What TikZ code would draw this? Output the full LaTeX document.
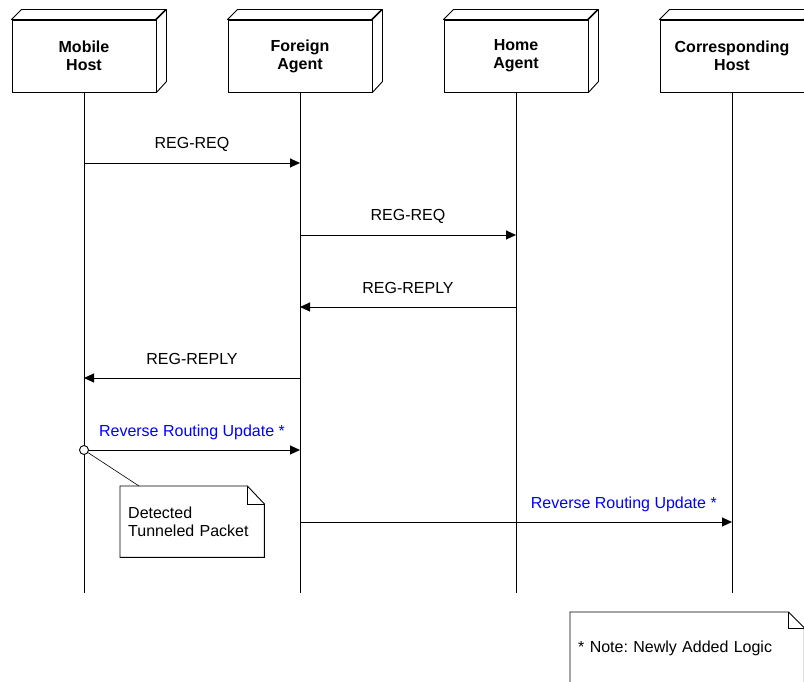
\documentclass[tikz,border=0pt]{standalone}
\usepackage{fontspec}
\setmainfont{Liberation Sans}
\usetikzlibrary{arrows.meta}
\definecolor{newlogic}{RGB}{0,0,255}
\begin{document}
\frenchspacing
\begin{tikzpicture}[x=1pt,y=-1pt,
  every node/.style={font=\fontsize{16}{18}\selectfont},
  headbox/.style={draw=black, line width=0.9pt, fill=white, minimum width=144pt,
    minimum height=72pt, align=center, inner sep=0pt, font=\fontsize{16}{18}\selectfont\bfseries},
  face/.style={draw=black, line width=0.9pt, fill=white, line join=round},
  life/.style={draw=black, line width=0.9pt},
  msg/.style={draw=black, line width=0.9pt, -{Triangle[length=10pt,width=9pt]}},
  lbl/.style={anchor=base, inner sep=0pt, yshift=14pt},
  newlbl/.style={lbl, text=newlogic},
  notebox/.style={anchor=north west, minimum height=71pt, text width=128pt,
    inner xsep=8pt, inner ysep=0pt, align=left},
  noteline/.style={draw=black, line width=0.9pt},
  hit/.style={circle, draw=black, line width=0.9pt, fill=white, inner sep=0pt, minimum size=9pt}
]
\useasboundingbox (0,0) rectangle (804,682);
\clip (0,0) rectangle (804,682);

% lifeline ends
\coordinate (mhE) at (84,593);
\coordinate (faE) at (300,593);
\coordinate (haE) at (516,593);
\coordinate (chE) at (732,593);

% lifelines
\draw[life] (84,91) -- (mhE);
\draw[life] (300,91) -- (faE);
\draw[life] (516,91) -- (haE);
\draw[life] (732,91) -- (chE);

% participant boxes with a 3-D depth
\foreach \nm/\x/\txt in {mh/84/{Mobile\\Host}, fa/300/{Foreign\\Agent},
                         ha/516/{Home\\Agent}, ch/732/{Corresponding\\Host}}{
  \node[headbox] (\nm) at (\x,56) {\txt};
  \draw[face] (\nm.north west) -- ++(10,-10) -- ++(144,0) -- ++(-10,10) -- cycle;
  \draw[face] (\nm.north east) -- ++(10,-10) -- ++(0,72) -- (\nm.south east) -- cycle;
}

% message anchor points on the lifelines
\coordinate (m1a) at (84,163);  \coordinate (m1b) at (300,163);
\coordinate (m2a) at (300,235); \coordinate (m2b) at (516,235);
\coordinate (m3a) at (516,307); \coordinate (m3b) at (300,307);
\coordinate (m4a) at (300,378); \coordinate (m4b) at (84,378);
\coordinate (m5a) at (84,450);  \coordinate (m5b) at (300,450);
\coordinate (m6a) at (300,522); \coordinate (m6b) at (732,522);

% messages
\draw[msg] (m1a) -- node[lbl] {REG-REQ} (m1b);
\draw[msg] (m2a) -- node[lbl] {REG-REQ} (m2b);
\draw[msg] (m3a) -- node[lbl] {REG-REPLY} (m3b);
\draw[msg] (m4a) -- node[lbl] {REG-REPLY} (m4b);
\draw[msg] (m5a) -- node[newlbl] {Reverse Routing Update *} (m5b);
\draw[msg] (m6a) -- (m6b);
\node[newlbl, anchor=base east] (l6) at (717,522) {Reverse Routing Update *};

% note: detected tunneled packet
\node[notebox] (det) at (120,486) {Detected\\Tunneled Packet};
\draw[noteline] (det.north west) -- ([xshift=-17pt]det.north east)
  -- ([yshift=-18pt]det.north east) -- (det.south east) -- (det.south west) -- cycle;
\draw[line width=0.9pt] ([xshift=-17pt]det.north east) |- ([yshift=-18pt]det.north east);
\node[hit] (tp) at (m5a) {};
\draw[line width=0.6pt] (tp) -- ([xshift=19pt]det.north west);

% note: newly added logic
\node[notebox, minimum height=72pt, text width=218pt] (nl) at (570,612) {* Note: Newly Added Logic};
\draw[noteline] (nl.north west) -- ([xshift=-16pt]nl.north east)
  -- ([yshift=-16pt]nl.north east) -- (nl.south east) -- (nl.south west) -- cycle;
\draw[line width=0.9pt] ([xshift=-16pt]nl.north east) |- ([yshift=-16pt]nl.north east);
\end{tikzpicture}
\end{document}
